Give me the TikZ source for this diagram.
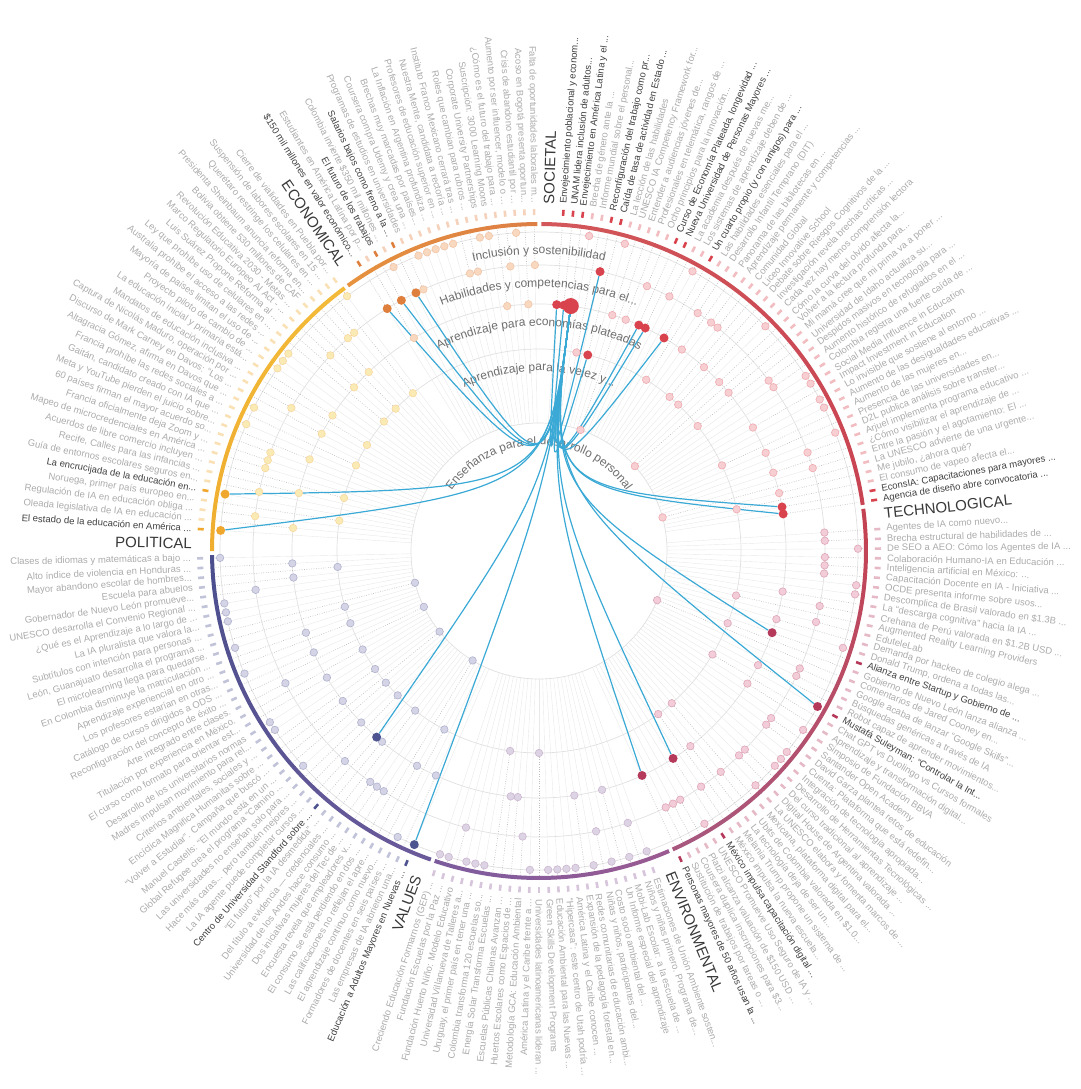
\documentclass[tikz,border=0pt]{standalone}
\usepackage{fontspec}
\setmainfont{Liberation Sans}
\usepackage{xcolor}
\usetikzlibrary{calc,decorations.text}

% sector colours
\definecolor{socdark}{HTML}{D9434E}
\definecolor{soclight}{HTML}{F7CFD2}
\definecolor{techdark}{HTML}{B5395B}
\definecolor{techlight}{HTML}{F2CCD8}
\definecolor{envdark}{HTML}{8E5C97}
\definecolor{envlight}{HTML}{DCD4E4}
\definecolor{valdark}{HTML}{4E5490}
\definecolor{vallight}{HTML}{D5D3E6}
\definecolor{poldark}{HTML}{EFA72D}
\definecolor{pollight}{HTML}{FAEBB5}
\definecolor{ecodark}{HTML}{DF7F3D}
\definecolor{ecolight}{HTML}{F8D9C0}
% ring gradient ends
\definecolor{socA}{HTML}{D2565A}
\definecolor{socB}{HTML}{C94452}
\definecolor{techA}{HTML}{C44352}
\definecolor{techB}{HTML}{A8587F}
\definecolor{envA}{HTML}{9A5B92}
\definecolor{envB}{HTML}{7D5C9E}
\definecolor{valA}{HTML}{6A5A9A}
\definecolor{valB}{HTML}{4C4F8E}
\definecolor{polA}{HTML}{EFAE30}
\definecolor{polB}{HTML}{F3BA3A}
\definecolor{ecoA}{HTML}{E6923F}
\definecolor{ecoB}{HTML}{DD7F45}
\definecolor{linkblue}{HTML}{3BA9D5}
\definecolor{textlight}{HTML}{ABABAB}
\definecolor{textdark}{HTML}{3F3F3F}
\definecolor{seclab}{HTML}{383838}
\definecolor{ringtext}{HTML}{6E6E6E}
\definecolor{guide}{HTML}{E0E0E0}

\pgfdeclarelayer{bg}
\pgfdeclarelayer{fg}
\pgfsetlayers{bg,main,fg}

\def\slotw{1.643836}
\newcommand\ringfont{\fontsize{12}{12}\selectfont\color{ringtext}}

% items: text/ring/highlight (0 faded, 1 linked, 2 hub)
\newcommand\socitems{%
{Envejecimiento poblacional y econom...}/3/1,
{UNAM lidera inclusión de adultos...}/3/1,
{Envejecimiento en América Latina y el ...}/3/2,
{Brecha de género ante la ...}/5/0,
{Informe mundial sobre el personal...}/2/0,
{Reconfiguración del trabajo como pr...}/4/1,
{Caída de tasa de actividad en Estado ...}/2/1,
{La lección de las habilidades}/5/0,
{UNESCO IA Competency Framework for...}/3/0,
{Entender a audiencias jóvenes de...}/1/0,
{Profesionales en telemática, rangos de ...}/3/0,
{Ocho principios para la innovación...}/4/0,
{Curso de Economía Plateada, longevidad ...}/3/1,
{Nueva Universidad de Personas Mayores ...}/3/1,
{La academia después de nuevas me...}/4/0,
{Los sistemas de aprendizaje deben de ...}/5/0,
{Un cuarto propio (y con amigos) para ...}/3/1,
{Las habilidades esenciales para el ...}/2/0,
{Desarrollo Infantil Temprano (DIT)}/4/0,
{Panorama de las bibliotecas en ...}/3/0,
{Aprendizaje permanente y competencias ...}/4/0,
{Comunidad Global}/4/0,
{Liceo Innovative School}/2/0,
{Debate sobre Riesgos Cognitivos de la ...}/3/0,
{Investigación revela brechas críticas ...}/2/0,
{Cada vez hay menos comprensión lectora}/5/0,
{Cómo la curva del olvido afecta la...}/3/0,
{Volver a la lectura profunda para...}/1/0,
{Mi mamá cree que mi prima va a poner ...}/3/0,
{Universidad de Idaho actualiza su...}/2/0,
{Despidos masivos en tecnología para ...}/4/0,
{Aumento histórico de refugiados en el ...}/4/0,
{Colombia registra una fuerte caída de ...}/5/0,
{Social Media Influence in Education}/5/0,
{Impact Investment in Education}/3/0,
{Lo invisible que sostiene al entorno ...}/5/0,
{Aumento de las desigualdades educativas ...}/5/0,
{Aumento de las mujeres en...}/2/0,
{Presencia de las universidades en...}/3/0,
{D2L publica análisis sobre transfer...}/5/0,
{Arjuel implementa programa educativo ...}/4/0,
{¿Cómo visibilizar el aprendizaje de ...}/3/0,
{Entre la pasión y el agotamiento: El ...}/4/0,
{La UNESCO advierte de una urgente...}/1/0,
{Me jubilo, ¿ahora qué?}/3/0,
{El consumo de vapeo afecta el...}/2/0,
{EconsIA: Capacitaciones para mayores ...}/3/1,
{Agencia de diseño abre convocatoria ...}/3/1}

\newcommand\techitems{%
{Agentes de IA como nuevo...}/4/0,
{Brecha estructural de habilidades de ...}/4/0,
{De SEO a AEO: Cómo los Agentes de IA ...}/5/0,
{Colaboración Humano-IA en Educación ...}/4/0,
{Inteligencia artificial en México: ...}/4/0,
{Capacitación Docente en IA - Iniciativa ...}/4/0,
{OCDE presenta informe sobre usos...}/5/0,
{Descomplica de Brasil valorado en \$1.3B ...}/5/0,
{La “descarga cognitiva” hacia la IA ...}/3/0,
{Crehana de Perú valorada en \$1.2B USD ...}/4/0,
{Augmented Reality Learning Providers}/2/0,
{EduteleLab}/4/0,
{Demanda por hackeo de colegio alega ...}/3/0,
{Donald Trump, ordena a todas las...}/5/0,
{Alianza entre Startup y Gobierno de ...}/3/1,
{Gobierno de Nuevo León lanza alianza ...}/2/0,
{Comentarios de Jared Cooney en...}/1/0,
{Google acaba de lanzar “Google Skills”...}/4/0,
{Búsquedas genéricas a través de IA}/4/0,
{Robot capaz de aprender movimientos...}/3/0,
{Mustafá Suleyman: “Controlar la Int...}/5/1,
{Chat GPT vs Duolingo vs Cursos formales}/2/0,
{Aprendizaje y transformación digital...}/3/0,
{Simposio de Fundación BBVA}/5/0,
{Santander Open Academy}/4/0,
{David Garza plantea retos de educación}/4/0,
{Cuenta: Plataforma que está redefin...}/5/0,
{Integración de tecnología apropiada...}/5/0,
{Desarrollo de Herramientas Tecnológicas ...}/5/0,
{Del curso tradicional al aprendizaje ...}/4/0,
{Digital House de Argentina valorada ...}/4/0,
{La UNESCO elabora y fomenta marcos de ...}/5/0,
{Mexicana, plataforma digital para el...}/2/0,
{Ubits de Colombia valorada en \$1.0...}/4/0,
{La tecnología deja de ser un...}/3/0,
{Melania Trump propone un sistema de ...}/2/0,
{México impulsa la nueva escuela...}/4/0,
{México impulsa capacitación digital ...}/3/1,
{UNESCO Promueve Uso Seguro de IA y ...}/5/0,
{Platzi alcanza valuación de \$150 USD ...}/4/0,
{Coursera duplica inscripciones para \$3...}/4/0,
{Sustitución de trabajos por tareas o ...}/4/0,
{Personas mayores de 50 años usan la ...}/3/1}

\newcommand\envitems{%
{Estimaciones de Unión Ambiente sosten...}/5/0,
{Niños y niñas primero. Programa de...}/4/0,
{Mobi-Lab Escolar: a la escuela de ...}/5/0,
{Un Informe especial del aprendizaje}/3/0,
{Costo socio ambiental del ...}/5/0,
{Niñas y niños, participantes del...}/4/0,
{Redes comunitarias de educación ambi...}/5/0,
{Expansión de la pedagogía forestal en...}/3/0,
{América Latina y el Caribe conocen ...}/5/0,
{“Hipercasa”: este centro de Utah podría ...}/5/0,
{Educación Ambiental para las Nuevas ...}/5/0,
{Green Skills Development Programs}/5/0,
{Universidades latinoamericanas lideran ...}/2/0,
{América Latina y el Caribe frente a ...}/5/0,
{Metodología GCA: Educación Ambiental}/4/0,
{Huertos Escolares como Espacios de ...}/3/0,
{Escuelas Públicas Chilenas Avanzan ...}/3/0,
{Energía Solar Transforma Escuelas ...}/2/0,
{Colombia transforma 120 escuelas so...}/5/0,
{Uruguay, el primer país en tener una ...}/5/0,
{Universidad Villanueva de Talleres a...}/5/0,
{Fundación Huerto Niño: Modelo Educativo}/4/0,
{Fundación Escuelas por la Paz ...}/5/0,
{Creciendo Educación Formarnos (GEP) ...}/5/0}

\newcommand\valitems{%
{Educación a Adultos Mayores en Nuevas ...}/5/1,
{Las empresas de IA abrieron una...}/3/0,
{Formadores de docentes en seis países ...}/5/0,
{El aprendizaje continuo como nuevo...}/2/0,
{Las calificaciones no reflejan el apre...}/3/0,
{El consumo se está perdiendo en dos ...}/1/0,
{Encuesta revela que empleadores v...}/4/0,
{Dos iniciativas mujeres del Tec de ...}/4/0,
{Universidad de los Andes hace consumo ...}/4/0,
{Del título a evidencia — credenciales ...}/2/0,
{“El futuro” por la IA desmedida” ...}/3/0,
{Centro de Universidad Standford sobre ...}/3/1,
{La IA agente puede completar cursos ...}/4/0,
{Hace más caras... pero también mejores ...}/2/0,
{Las universidades no enseñan solo para ...}/3/0,
{Global Refugee crea el programa “Camino ...}/5/0,
{Manuel Castells: “El mundo está en un ...}/2/0,
{“Volver a Estudiar”. Campaña que buscó ...}/1/0,
{Encíclica Magnifica Humanitas sobre ...}/3/0,
{Criterios ambientales, sociales y ...}/2/0,
{Madres impulsan movimiento para rel...}/5/0,
{Desarrollo de los universitarios normas}/5/0,
{El curso como formato para orientar est...}/3/0,
{Titulación por experiencia en México.}/2/0,
{Arte integrado entre clases.}/4/0,
{Reconfiguración del concepto de éxito ...}/1/0,
{Catálogo de cursos dirigidos a ODS ...}/3/0,
{Los profesores estarían en otras...}/5/0,
{Aprendizaje experiencial en otro ...}/2/0,
{En Colombia disminuye la matriculación ...}/3/0,
{El microlearning llega para quedarse.}/5/0,
{León, Guanajuato desarrolla el programa ...}/2/0,
{Subtítulos con intención para personas ...}/1/0,
{La IA pluralista que valora la...}/5/0,
{¿Qué es el Aprendizaje a lo largo de ...}/5/0,
{UNESCO desarrolla el Convenio Regional ...}/5/0,
{Gobernador de Nuevo León promueve...}/4/0,
{Escuela para abuelos}/3/0,
{Mayor abandono escolar de hombres...}/2/0,
{Alto índice de violencia en Honduras ...}/3/0,
{Clases de idiomas y matemáticas a bajo ...}/5/0}

\newcommand\politems{%
{El estado de la educación en América ...}/5/1,
{Oleada legislativa de IA en educación ...}/3/0,
{Regulación de IA en educación obliga ...}/4/0,
{Noruega, primer país europeo en...}/2/0,
{La encrucijada de la educación en...}/5/1,
{Guía de entornos escolares seguros en...}/4/0,
{Recife, Calles para las infancias ...}/3/0,
{Acuerdos de libre comercio incluyen ...}/2/0,
{Mapeo de microcredenciales en América ...}/4/0,
{Francia oficialmente deja Zoom y ...}/4/0,
{60 países firman el mayor acuerdo so...}/4/0,
{Meta y YouTube pierden el juicio sobre...}/3/0,
{Gaitán, candidato creado con IA que ...}/5/0,
{Francia prohíbe las redes sociales a ...}/2/0,
{Altagracia Gómez, afirma en Davos que ...}/5/0,
{Discurso de Mark Carney en Davos: “Los ...}/3/0,
{Captura de Nicolás Maduro, operación por ...}/4/0,
{Mandatos de educación inclusiva ...}/2/0,
{La educación inicial y primaria está...}/3/0,
{Proyecto piloto de cambio de ...}/5/0,
{Mayoría de países limitan el uso de ...}/5/0,
{Australia prohíbe el acceso a las redes ...}/5/0,
{Ley que prohíbe uso de celulares en ...}/2/0,
{Luis Suárez Propone Reforma al ...}/3/0,
{Marco Regulatorio Europeo AI Act - ...}/4/0,
{Revolución Educativa 2030 - Metas ...}/2/0,
{Bolivia obtiene 530 millones de CAF}/3/0,
{Presidenta Sheinbaum anuncia reforma en...}/4/0,
{Querétaro restringe los celulares en ...}/4/0,
{Suspensión de labores escolares en 15 ...}/2/0,
{Cierre de vialidades en Puebla por...}/5/0}

\newcommand\ecoitems{%
{\$150 mil millones en valor económico...}/4/1,
{Estudiantes en América Latina por p...}/3/0,
{El futuro de los trabajos}/4/1,
{Colombia invierte \$350 mil millones ...}/5/0,
{Salarios bajos como freno a la ...}/4/1,
{Programas de estudios en universidades}/4/0,
{Coursera compra Udemy y crea una ...}/5/0,
{Brechas muy marcadas por países...}/5/0,
{La Inflación en Argentina profundiza ...}/5/0,
{Profesores de educación superior en ...}/5/0,
{Nuestra Mente, candidata a rectoría ...}/5/0,
{Instituto Franco Mexicano cerrará tras ...}/4/0,
{Roles que cambian para rubros ...}/4/0,
{Corporate University Partnerships}/5/0,
{Suscripción: 3000 Learning Moons}/5/0,
{¿Cómo es el futuro del trabajo para ...}/3/0,
{Aumento por ser influencer, modelo o ...}/4/0,
{Crisis de abandono estudiantil por ...}/5/0,
{Acoso en Bogotá presenta oportun...}/3/0,
{Falta de oportunidades laborales m...}/4/0}

% one sector: name, first slot, dark colour, light colour, list
\newcommand\drawitems[5]{%
  \foreach \itxt/\iring/\ihl [count=\i] in #5 {
    \pgfmathsetmacro\ang{90-(#2+\i+1.5)*\slotw}
    \pgfmathsetmacro\rad{{128,202,247,286,319}[\iring-1]}
    \pgfmathtruncatemacro\isleft{cos(\ang)<0}
    \ifnum\ihl>0 \def\tickcol{#3}\def\txtcol{textdark}\else\def\tickcol{#3!35}\def\txtcol{textlight}\fi
    % label and tick
    \ifnum\isleft=1
      \node[itemtext, text=\txtcol, anchor=east, rotate=\ang+180] (#1-\i) at (\ang:348) {\itxt};
    \else
      \node[itemtext, text=\txtcol, anchor=west, rotate=\ang] (#1-\i) at (\ang:348) {\itxt};
    \fi
    \draw[tick, draw=\tickcol] (\ang:336) -- (\ang:342);
    % dot
    \begin{pgfonlayer}{fg}
      \ifcase\ihl
        \node[dot, fill=#4, draw=#3!45] (#1-d\i) at (\ang:\rad) {};
      \or
        \node[hldot, fill=#3] (#1-d\i) at (\ang:\rad) {};
      \or
        \node[hubdot, fill=#3] (#1-d\i) at (\ang:\rad) {};
      \fi
    \end{pgfonlayer}
    % stem and leader
    \coordinate (#1-c\i) at (\ang:128);
    \coordinate (#1-r\i) at (\ang:324);
    \begin{pgfonlayer}{bg}
      \ifnum\iring>1 \draw[stem] (#1-c\i) -- (#1-d\i); \fi
      \draw[leader] (#1-d\i) -- (#1-r\i);
    \end{pgfonlayer}
  }%
}

\begin{document}
\begin{tikzpicture}[x=1pt, y=1pt,
    itemtext/.style={inner sep=0pt, font=\fontsize{9.5}{10}\selectfont},
    seclabel/.style={inner sep=0pt, text=seclab, font=\fontsize{15}{15}\selectfont},
    tick/.style={line width=2.6pt},
    dot/.style={circle, inner sep=0pt, minimum size=7.5pt, line width=0.6pt},
    hldot/.style={circle, inner sep=0pt, minimum size=9pt},
    hubdot/.style={circle, inner sep=0pt, minimum size=16pt},
    ring/.style={line width=4pt},
    guideline/.style={draw=guide, line width=0.7pt},
    stem/.style={draw=black!9, line width=0.4pt},
    leader/.style={draw=black!25, line width=0.6pt, dash pattern=on 0.8pt off 1.6pt},
    link/.style={draw=linkblue, line width=1.2pt}]
  \useasboundingbox (-539,-538) rectangle (541,551);
  \coordinate (ctr) at (0,0);

  % guide circles
  \begin{pgfonlayer}{bg}
    \foreach \rr in {128,202,247,286,319}
      \draw[guideline] (ctr) circle[radius=\rr];
  \end{pgfonlayer}

  % outer ring, one arc per sector
  \foreach \sA/\sB/\ca/\cb in {0/50/socA/socB, 50/95/techA/techB, 95/121/envA/envB,
      121/164/valA/valB, 164/197/polA/polB, 197/219/ecoA/ecoB} {
    \pgfmathsetmacro\aS{90-\sA*\slotw-0.4}
    \pgfmathsetmacro\aE{90-\sB*\slotw+0.4}
    \foreach \k in {0,...,11} {
      \pgfmathsetmacro\angA{\aS+(\aE-\aS)*\k/12}
      \pgfmathsetmacro\angB{\aS+(\aE-\aS)*(\k+1)/12-0.1}
      \pgfmathtruncatemacro\pc{100-100*\k/11}
      \draw[ring, draw=\ca!\pc!\cb] (\angA:327) arc[start angle=\angA, end angle=\angB, radius=327];
    }
  }

  % ring labels
  \path[decorate, decoration={text along path, text align=center,
    text={|\ringfont|Inclusión y sostenibilidad}}] (145:297) arc[start angle=145, end angle=35, radius=297];
  \path[decorate, decoration={text along path, text align=center,
    text={|\ringfont|Habilidades y competencias para el...}}] (150:264) arc[start angle=150, end angle=30, radius=264];
  \path[decorate, decoration={text along path, text align=center,
    text={|\ringfont|Aprendizaje para economías plateadas}}] (155:225) arc[start angle=155, end angle=25, radius=225];
  \path[decorate, decoration={text along path, text align=center,
    text={|\ringfont|Aprendizaje para la vejez y...}}] (160:180) arc[start angle=160, end angle=20, radius=180];
  \path[decorate, decoration={text along path, text align=center,
    text={|\ringfont|Enseñanza para el desarrollo personal}}] (175:106) arc[start angle=175, end angle=5, radius=106];

  % sector names
  \foreach \nm/\st/\lbl in {soc/0/SOCIETAL, tech/50/TECHNOLOGICAL, env/95/ENVIRONMENTAL,
      val/121/VALUES, pol/164/POLITICAL, eco/197/ECONOMICAL} {
    \pgfmathsetmacro\ang{90-(\st+1)*\slotw}
    \pgfmathtruncatemacro\isleft{cos(\ang)<0}
    \ifnum\isleft=1
      \node[seclabel, anchor=east, rotate=\ang+180] (\nm-lbl) at (\ang:347) {\lbl};
    \else
      \node[seclabel, anchor=west, rotate=\ang] (\nm-lbl) at (\ang:347) {\lbl};
    \fi
  }

  % items of every sector
  \drawitems{soc}{0}{socdark}{soclight}{\socitems}
  \drawitems{tech}{50}{techdark}{techlight}{\techitems}
  \drawitems{env}{95}{envdark}{envlight}{\envitems}
  \drawitems{val}{121}{valdark}{vallight}{\valitems}
  \drawitems{pol}{164}{poldark}{pollight}{\politems}
  \drawitems{eco}{197}{ecodark}{ecolight}{\ecoitems}

  % links from the hub
  \foreach \tgt in {soc-d1, soc-d2, soc-d6, soc-d7, soc-d13, soc-d14, soc-d17, soc-d47, soc-d48,
      tech-d15, tech-d21, tech-d38, tech-d43, val-d1, val-d12, pol-d1, pol-d5,
      eco-d1, eco-d3, eco-d5}
    \draw[link] (soc-d3) .. controls ($(soc-d3)!0.75!(ctr)$) .. (\tgt);
\end{tikzpicture}
\end{document}
